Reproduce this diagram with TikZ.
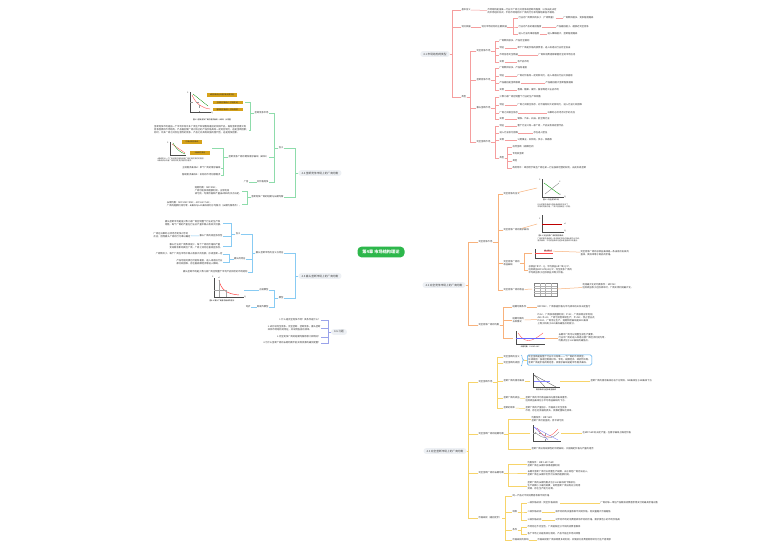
\documentclass[tikz,border=0pt]{standalone}
\usepackage{fontspec}
\setmainfont{Noto Sans CJK SC}
\usetikzlibrary{backgrounds}
\definecolor{redl}{HTML}{F59E9E}
\definecolor{orangel}{HTML}{F8B27C}
\definecolor{yellowl}{HTML}{F7D46A}
\definecolor{greenl}{HTML}{8EDCAB}
\definecolor{bluel}{HTML}{88CBF3}
\definecolor{purplel}{HTML}{9AA3EA}
\definecolor{pillgray}{HTML}{EDF0F4}
\definecolor{rootgreen}{HTML}{2DB74B}
\definecolor{gold}{HTML}{D6A21A}
\definecolor{boxblue}{HTML}{4AA8EE}
\newcommand\mmsmall{\fontsize{2.3}{2.9}\selectfont}
\newcommand\mmtiny{\fontsize{1.8}{2.2}\selectfont}
\newcommand\mmpill{\fontsize{2.7}{3.3}\selectfont}
\newcommand\mmroot{\fontsize{4.2}{5}\selectfont\bfseries}
\begin{document}
\begin{tikzpicture}[x=1pt,y=-1pt,
  txt/.style={inner sep=0.3pt,font=\mmsmall,align=left,text=black!80},
  pill/.style={fill=pillgray,rounded corners=2.5pt,inner xsep=3pt,inner ysep=1.6pt,font=\mmpill,text=black!75},
  goldbox/.style={fill=gold,inner sep=0.6pt,font=\mmtiny,text=black!85,minimum height=3.6pt},
  rl/.style={draw=redl,line width=0.5pt},
  ol/.style={draw=orangel,line width=0.5pt},
  yl/.style={draw=yellowl,line width=0.5pt},
  gl/.style={draw=greenl,line width=0.5pt},
  bl/.style={draw=bluel,line width=0.5pt},
  pl/.style={draw=purplel,line width=0.5pt},
  axis/.style={draw=black!70,line width=0.3pt},
  lab/.style={font=\mmtiny,inner sep=0.2pt}]
\useasboundingbox[fill=white] (0,0) rectangle (771,552);

\node[fill=rootgreen,text=white,rounded corners=4pt,minimum width=47pt,minimum height=10pt,font=\mmroot] (root) at (381,252) {第4章 市场结构理论};
\node[pill] (p41) at (435,54) {4.1 市场结构的类型};
\node[pill] (p42) at (444,285) {4.2 完全竞争市场上的厂商均衡};
\node[pill] (p43) at (445,451) {4.3 完全垄断市场上的厂商均衡};
\node[pill] (p44) at (320,173) {4.4 垄断竞争市场上的厂商均衡};
\node[pill] (p45) at (320,276) {4.5 寡头垄断市场上的厂商均衡};
\node[pill] (p46) at (339,332) {4.6 习题};

\begin{scope}[on background layer]
\draw[redl,line width=0.9pt] (root.center) .. controls (388,120) and (392,54) .. (p41.west);
\draw[orangel,line width=0.9pt] (root.center) .. controls (392,285) and (400,285) .. (p42.west);
\draw[yellowl,line width=0.9pt] (root.center) .. controls (388,430) and (395,451) .. (p43.west);
\draw[greenl,line width=0.9pt] (root.center) .. controls (382,185) and (365,173) .. (p44.east);
\draw[bluel,line width=0.9pt] (root.center) .. controls (378,270) and (365,276) .. (p45.east);
\draw[purplel,line width=0.9pt] (root.center) .. controls (384,315) and (365,332) .. (p46.east);
\end{scope}

\node[txt,anchor=west] (r1) at (461,10) {基本含义};
\node[txt,anchor=west] (r1t) at (487,11) {市场结构是指某一行业中厂商之间竞争或垄断的程度，以及由此决定\\的市场组织形式，不同市场结构中厂商的行为和均衡结果各不相同。};
\node[txt,anchor=west] (r2) at (461,27) {划分依据};
\node[txt,anchor=west] (r2a) at (481,27) {划分市场结构的主要依据};
\node[txt,anchor=west] (r2b1) at (518,18) {行业内厂商数目的多少（厂商数量）};
\node[txt,anchor=west] (r2c1) at (563,18) {厂商数目越多，竞争程度越高};
\node[txt,anchor=west] (r2b2) at (518,27) {行业内产品的差别程度};
\node[txt,anchor=west] (r2c2) at (556,27) {产品差别越小，越接近完全竞争};
\node[txt,anchor=west] (r2b3) at (518,34) {进入行业的难易程度};
\node[txt,anchor=west] (r2c3) at (547,34) {进入障碍越大，垄断程度越高};
\node[txt,anchor=west] (r3) at (461,97) {类型};
\foreach \c in {r1,r2,r3} \draw[rl] (p41.east) -- ++(2,0) |- (\c.west);
\draw[rl] (r1) -- (r1t);
\draw[rl] (r2) -- (r2a);
\foreach \c in {r2b1,r2b2,r2b3} \draw[rl] (r2a.east) -- ++(6,0) |- (\c.west);
\draw[rl] (r2b1) -- (r2c1);
\draw[rl] (r2b2) -- (r2c2);
\draw[rl] (r2b3) -- (r2c3);

\node[txt,anchor=west] (m1) at (476,51) {完全竞争市场};
\node[txt,anchor=west] (m1a) at (499,41) {厂商数目很多，产品完全相同};
\node[txt,anchor=west] (m1b) at (499,48) {特征};
\node[txt,anchor=west] (m1bt) at (517,48) {单个厂商是价格的接受者，进入或退出行业完全自由};
\node[txt,anchor=west] (m1c) at (499,55) {市场信息完全畅通};
\node[txt,anchor=west] (m1ct) at (538,55) {厂商和消费者都掌握完全的市场信息};
\node[txt,anchor=west] (m1d) at (499,62) {实例};
\node[txt,anchor=west] (m1dt) at (517,62) {农产品市场};
\node[txt,anchor=west] (m2) at (476,80) {垄断竞争市场};
\node[txt,anchor=west] (m2a) at (499,68) {厂商数目较多，产品有差别};
\node[txt,anchor=west] (m2b) at (499,76) {特征};
\node[txt,anchor=west] (m2bt) at (517,76) {厂商对价格有一定的影响力，进入或退出行业比较容易};
\node[txt,anchor=west] (m2c) at (499,83) {产品差别是垄断根源};
\node[txt,anchor=west] (m2ct) at (545,83) {产品差别越大垄断程度越高};
\node[txt,anchor=west] (m2d) at (499,90) {实例};
\node[txt,anchor=west] (m2dt) at (517,90) {香烟、糖果、餐饮、服装等轻工业品市场};
\node[txt,anchor=west] (m3) at (476,108) {寡头垄断市场};
\node[txt,anchor=west] (m3a) at (499,97) {少数几家厂商控制整个行业的生产和销售};
\node[txt,anchor=west] (m3b) at (499,105) {特征};
\node[txt,anchor=west] (m3bt) at (517,105) {厂商之间相互依存，对价格有较大的影响力，进入行业比较困难};
\node[txt,anchor=west] (m3c) at (499,113) {厂商之间相互依存};
\node[txt,anchor=west] (m3ct) at (547,113) {决策时必须考虑对手的反应};
\node[txt,anchor=west] (m3d) at (499,119) {实例};
\node[txt,anchor=west] (m3dt) at (517,119) {钢铁、汽车、石油、航空等行业};
\node[txt,anchor=west] (m4) at (476,142) {完全垄断市场};
\node[txt,anchor=west] (m4a) at (499,126) {特征};
\node[txt,anchor=west] (m4at) at (517,126) {整个行业只有一家厂商，产品没有相近替代品};
\node[txt,anchor=west] (m4b) at (499,133) {进入行业极为困难};
\node[txt,anchor=west] (m4bt) at (533,133) {存在进入壁垒};
\node[txt,anchor=west] (m4c) at (499,140) {实例};
\node[txt,anchor=west] (m4ct) at (517,140) {公用事业，如供电、供水、铁路等};
\node[txt,anchor=west] (m4d) at (499,158) {类型};
\node[txt,anchor=west] (m4d1) at (512,147) {自然垄断（规模经济）};
\node[txt,anchor=west] (m4d2) at (512,154) {专利权垄断};
\node[txt,anchor=west] (m4d3) at (512,161) {其他};
\node[txt,anchor=west] (m4d4) at (512,168) {政府特许：政府给予某些厂商在某一行业独家经营的权利，由此形成垄断};
\foreach \c in {m1,m2,m3,m4} \draw[rl] (r3.east) -- ++(4,0) |- (\c.west);
\foreach \c in {m1a,m1b,m1c,m1d} \draw[rl] (m1.east) -- ++(4,0) |- (\c.west);
\foreach \c in {m2a,m2b,m2c,m2d} \draw[rl] (m2.east) -- ++(4,0) |- (\c.west);
\foreach \c in {m3a,m3b,m3c,m3d} \draw[rl] (m3.east) -- ++(4,0) |- (\c.west);
\foreach \c in {m4a,m4b,m4c,m4d} \draw[rl] (m4.east) -- ++(4,0) |- (\c.west);
\foreach \c in {m4d1,m4d2,m4d3,m4d4} \draw[rl] (m4d.east) -- ++(3,0) |- (\c.west);
\foreach \a/\b in {m1b/m1bt,m1c/m1ct,m1d/m1dt,m2b/m2bt,m2c/m2ct,m2d/m2dt,m3b/m3bt,m3c/m3ct,m3d/m3dt,m4a/m4at,m4b/m4bt,m4c/m4ct} \draw[rl] (\a) -- (\b);

\node[txt,anchor=west] (o1) at (478,242) {完全竞争市场};
\node[txt,anchor=west] (oa) at (503,194) {完全竞争的含义};
\node[txt,anchor=west] (ob) at (503,230) {完全竞争厂商的需求曲线};
\node[txt,anchor=west] (oc) at (503,263) {完全竞争厂商的\\收益曲线};
\node[txt,anchor=west] (od) at (503,290) {完全竞争厂商的收益};
\node[txt,anchor=west] (o2) at (478,325) {完全竞争厂商的均衡};
\node[txt,anchor=west] (oe) at (512,307) {短期均衡条件};
\node[txt,anchor=west] (oet) at (537,307) {MR=SMC，厂商根据价格与平均成本的关系决定盈亏};
\node[txt,anchor=west] (of) at (512,320) {短期均衡的\\五种情况};
\node[txt,anchor=west] (oft) at (537,319) {P>AC，厂商获得超额利润；P=AC，厂商获得正常利润；\\AVC<P<AC，厂商亏损但继续生产；P=AVC，停止营业点；\\P<AVC，厂商停止生产。短期供给曲线是SMC曲线\\上等于和高于AVC曲线最低点的部分。};
\foreach \c in {o1,o2} \draw[ol] (p42.east) -- ++(3,0) |- (\c.west);
\foreach \c in {oa,ob,oc,od} \draw[ol] (o1.east) -- ++(5,0) |- (\c.west);
\draw[ol] (o2.east) -- ++(4,0) |- (oe.west);
\draw[ol] (o2.east) -- ++(4,0) |- (of.west);
\draw[ol] (oe) -- (oet);
\draw[ol] (of) -- (oft);

\coordinate (fa) at (537,188);
\draw[ol] (oa) -- (fa);
\draw[axis] (542,179) -- (542,197) -- (564,197);
\draw[green!60!black,line width=0.35pt] (544,183) -- (559,194);
\draw[gray,line width=0.35pt] (545,194) -- (559,183);
\node[lab] at (540,180) {P};
\node[lab] at (565,197) {Q};
\node[lab] at (560,182) {S};
\node[lab] at (560,195) {D};
\node[lab] at (551,200) {图4-1 完全竞争市场};
\node[txt,anchor=west,font=\mmtiny] at (537,206) {行业的需求曲线与供给曲线相交决定了\\市场的均衡价格，厂商只能接受这一价格。};

\coordinate (fb) at (537,224);
\draw[ol] (ob) -- (fb);
\draw[axis] (542,215) -- (542,232) -- (564,232);
\draw[red!75!black,line width=0.5pt] (542,224) -- (562,224);
\node[lab] at (540,219) {P};
\node[lab] at (565,224) {d};
\node[lab] at (565,231) {Q};
\node[lab] at (551,235.5) {图4-2 完全竞争厂商的需求曲线};
\node[txt,anchor=west,font=\mmtiny] at (537,240) {厂商的需求曲线是一条由既定市场价格出发的水平线，\\需求曲线、平均收益曲线与边际收益曲线三线重合。};

\coordinate (fc) at (532,253);
\foreach \c in {fc} \draw[ol] (oc.east) -- ++(4,0) |- (\c);
\draw[axis] (535,249) -- (535,258) -- (553,258);
\draw[red!70,line width=0.4pt] (535,253) -- (553,253);
\node[fill=red!30,inner sep=0.5pt,font=\mmtiny] (fcl) at (548,251) {AR=MR=P};
\node[txt,anchor=west] (oct) at (528,270) {总收益TR=P·Q，平均收益AR=TR/Q=P，\\边际收益MR=ΔTR/ΔQ=P，完全竞争厂商的\\平均收益等于边际收益并等于价格。};
\draw[ol] (oc.east) -- ++(4,0) |- (oct.west);
\node[txt,anchor=west] (oct2) at (580,253) {完全竞争厂商的总收益曲线是一条由原点出发的\\直线，其斜率等于商品的价格。};
\draw[ol] (fcl) -- (oct2);

\coordinate (fd) at (532,289);
\draw[ol] (od) -- (fd);
\draw[black!50,line width=0.2pt] (534,283) rectangle (557,296);
\foreach \yy in {285.6,288.2,290.8,293.4} \draw[black!30,line width=0.15pt] (534,\yy) -- (557,\yy);
\foreach \xx in {539.75,545.5,551.25} \draw[black!30,line width=0.15pt] (\xx,283) -- (\xx,296);
\node[txt,anchor=west] (odt) at (582,286) {利润最大化的均衡条件：MR=MC\\边际收益等于边际成本时，厂商实现利润最大化。};
\draw[ol] (557,289) -- (odt);

\coordinate (fe) at (513,338);
\draw[ol] (o2.east) -- ++(4,0) |- (fe);
\draw[axis] (516,331) -- (516,344) -- (545,344);
\draw[red!70,line width=0.35pt] (518,333) .. controls (525,344) and (532,342) .. (543,333);
\draw[blue!60,line width=0.3pt] (516,338) -- (545,338);
\node[lab] at (530,346.5) {长期均衡：P=LMC=LAC};
\node[txt,anchor=west] (oget) at (558,338) {长期中厂商可以调整全部生产要素，\\行业中厂商的进入和退出使厂商经济利润为零，\\均衡点位于LAC曲线的最低点。};
\draw[ol] (545,338) -- (oget);

\node[txt,anchor=west] (y1) at (478,382) {完全垄断市场};
\node[txt,anchor=west] (ya) at (503,357) {完全垄断的含义};
\node[txt,anchor=west] (yb) at (503,363) {完全垄断的成因};
\node[txt,anchor=west] (yc) at (503,381) {垄断厂商的需求曲线};
\node[txt,anchor=west] (yd) at (503,398) {垄断厂商的收益};
\node[txt,anchor=west] (ye) at (503,408) {垄断的效率};
\node[txt,anchor=west] (y2) at (478,434) {完全垄断厂商的短期均衡};
\node[txt,anchor=west] (y3) at (478,473) {完全垄断厂商的长期均衡};
\node[txt,anchor=west] (y4) at (478,518) {价格歧视（差别定价）};
\foreach \c in {y1,y2,y3,y4} \draw[yl] (p43.east) -- ++(2,0) |- (\c.west);
\foreach \c in {ya,yb,yc,yd,ye} \draw[yl] (y1.east) -- ++(4,0) |- (\c.west);
\node[draw=boxblue,rounded corners=1.5pt,line width=0.5pt,fill=white,txt,inner sep=1.2pt,anchor=west] (ybox) at (527,360) {完全垄断是指整个行业中只有唯一一个厂商的市场类型，\\形成原因：独家控制原材料、专利、规模经济、政府特许等。\\垄断厂商是价格的制定者，其需求曲线就是市场需求曲线。};
\draw[boxblue,line width=0.4pt] (521,355) .. controls (523,355) and (521,360) .. (524,360) .. controls (521,360) and (523,366) .. (521,366);
\draw[yl] (524,360) -- (ybox.west);
\coordinate (fy) at (530,381);
\draw[yl] (yc) -- (fy);
\draw[axis] (533,373) -- (533,387) -- (560,387);
\draw[black!70,line width=0.3pt] (534,375) -- (556,387);
\draw[black!70,line width=0.3pt] (534,375) -- (545,387);
\draw[blue!50,line width=0.3pt] (534,381) -- (550,381);
\node[lab] at (546,389.5) {需求曲线与边际收益曲线};
\node[txt,anchor=west] (yct) at (590,381) {垄断厂商的需求曲线向右下方倾斜，MR曲线位于AR曲线下方};
\draw[yl] (560,381) -- (yct);
\node[txt,anchor=west] (ydt) at (525,399) {垄断厂商的平均收益曲线与需求曲线重合，\\边际收益曲线位于平均收益曲线的下方。};
\node[txt,anchor=west] (yet) at (525,409) {垄断厂商的产量低于、价格高于完全竞争\\市场，存在社会福利损失，资源配置缺乏效率。};
\draw[yl] (yd) -- (ydt);
\draw[yl] (ye) -- (yet);

\node[txt,anchor=west] (yf) at (531,419) {均衡条件：MR=SMC\\垄断厂商可能盈利、持平或亏损};
\coordinate (fg) at (530,433);
\node[txt,anchor=west] (yh) at (531,449) {垄断厂商没有规律性的供给曲线，只能确定价格与产量的组合};
\foreach \c in {yf,fg,yh} \draw[yl] (y2.east) -- ++(4,0) |- (\c);
\draw[axis] (533,425) -- (533,441) -- (561,441);
\draw[blue!55,line width=0.3pt] (534,427) -- (558,440);
\draw[blue!55,line width=0.3pt] (534,427) -- (548,440);
\draw[red!70,line width=0.3pt] (537,428) .. controls (545,440) and (550,438) .. (558,429);
\draw[black!60,line width=0.25pt] (535,432) .. controls (543,440) and (552,440) .. (559,432);
\draw[black!40,dashed,line width=0.2pt] (533,433) -- (545,433) -- (545,441);
\node[txt,anchor=west] (ygt) at (582,433) {在MR=SMC处决定产量，在需求曲线上确定价格};
\draw[yl] (561,433) -- (ygt);

\node[txt,anchor=west] (yi) at (527,464) {均衡条件：MR=LMC=SMC\\垄断厂商在长期中获得超额利润};
\node[txt,anchor=west] (yj) at (527,473) {长期中垄断厂商可以调整生产规模，由于其他厂商无法进入，\\垄断厂商在长期中仍然可以保持超额利润。};
\node[txt,anchor=west] (yk) at (527,486) {垄断厂商的长期均衡点位于LAC曲线的下降部分，\\生产规模小于最优规模，说明垄断厂商没有充分利用\\资源，存在生产能力过剩。};
\foreach \c in {yi,yj,yk} \draw[yl] (y3.east) -- ++(4,0) |- (\c.west);

\node[txt,anchor=west] (yl1) at (512,496) {同一产品对不同消费者收取不同价格};
\node[txt,anchor=west] (ym) at (512,512) {种类};
\node[txt,anchor=west] (yn) at (512,530) {条件};
\node[txt,anchor=west] (yo) at (512,540) {价格歧视的影响};
\foreach \c in {yl1,ym,yn,yo} \draw[yl] (y4.east) -- ++(3,0) |- (\c.west);
\node[txt,anchor=west] (ym1) at (527,503) {一级价格歧视（完全价格歧视）};
\node[txt,anchor=west] (ym2) at (527,512) {二级价格歧视};
\node[txt,anchor=west] (ym3) at (527,520) {三级价格歧视};
\foreach \c in {ym1,ym2,ym3} \draw[yl] (ym.east) -- ++(4,0) |- (\c.west);
\node[txt,anchor=west] (ym1t) at (600,503) {厂商对每一单位产品都按消费者愿意支付的最高价格出售};
\node[txt,anchor=west] (ym2t) at (555,512) {按不同的购买量收取不同的价格，购买量越大价格越低};
\node[txt,anchor=west] (ym3t) at (555,520) {对不同市场的消费者收取不同的价格，需求弹性小的市场价格高};
\draw[yl] (ym1) -- (ym1t);
\draw[yl] (ym2) -- (ym2t);
\draw[yl] (ym3) -- (ym3t);
\node[txt,anchor=west] (yn1) at (527,527) {市场存在不完全性，厂商能够区分不同的消费者群体};
\node[txt,anchor=west] (yn2) at (527,534) {各个市场之间是有效分割的，产品不能在市场间转售};
\foreach \c in {yn1,yn2} \draw[yl] (yn.east) -- ++(4,0) |- (\c.west);
\node[txt,anchor=west] (yot) at (537,540) {价格歧视使厂商获得更多的利润，并使部分消费者剩余转化为生产者剩余};
\draw[yl] (yo) -- (yot);

\node[txt,anchor=east] (g1) at (284,148) {含义};
\node[txt,anchor=east] (g2) at (284,197) {垄断竞争厂商的短期与长期均衡};
\foreach \c in {g1,g2} \draw[gl] (p44.west) -- ++(-3,0) |- (\c.east);
\node[txt,anchor=east] (ga) at (269,113) {垄断竞争市场};
\node[txt,anchor=east] (gb) at (269,157) {垄断竞争厂商的两条需求曲线（d和D）};
\node[txt,anchor=east] (gc) at (269,182) {非价格竞争};
\foreach \c in {ga,gb,gc} \draw[gl] (g1.west) -- ++(-4,0) |- (\c.east);
\node[txt,anchor=east] (gct) at (249,182) {广告};
\draw[gl] (gc) -- (gct);

\coordinate (gfa) at (245,102);
\draw[axis] (190,92) -- (190,112) -- (211,112);
\draw[red!75,line width=0.35pt] (192,95) .. controls (196,104) and (202,108) .. (210,109);
\draw[green!55!black,line width=0.3pt] (193,94) -- (208,106);
\draw[black!40,dashed,line width=0.2pt] (190,102) -- (199,102) -- (199,112);
\node[lab] at (188,93) {P};
\node[lab] at (212,113) {Q};
\node[goldbox,minimum width=30pt] (gk1) at (222,95) {d需求曲线比D需求曲线更平坦};
\node[goldbox,minimum width=30pt] (gk2) at (228,102.5) {主观需求曲线d（价格变动）};
\node[goldbox,minimum width=30pt] (gk3) at (228,109.5) {客观需求曲线D（实际需求）};
\node[lab] at (212,120) {图4-3 垄断竞争厂商的需求曲线（d和D）示意图};
\node[txt,anchor=east] (gat) at (249,130) {垄断竞争市场是指一个市场中有许多厂商生产和销售有差别的同种产品，既有垄断因素又有\\竞争因素的市场结构，产品差别使厂商对自己的产品价格具有一定的控制力，这是垄断因素；\\同时，许多厂商之间存在激烈的竞争，产品之间具有较强的替代性，这是竞争因素。};
\foreach \c in {gfa} \draw[gl] (ga.west) -- ++(-4,0) |- (\c);
\draw[gl] (ga.west) -- ++(-4,0) |- (gat.east);

\coordinate (gfb) at (212,148);
\draw[axis] (170,142) -- (170,155) -- (186,155);
\draw[red!75,line width=0.3pt] (172,144) -- (185,153);
\draw[green!55!black,line width=0.3pt] (173,143) .. controls (177,150) and (180,152) .. (185,154);
\node[lab] at (168,143) {P};
\node[goldbox,minimum width=20pt] (gk4) at (192,142) {均衡点需求曲线};
\node[goldbox,minimum width=20pt] (gk5) at (200,153) {D曲线的变动};
\node[txt,anchor=west,font=\mmtiny] at (157,159.5) {d曲线表示一个厂商改变价格而其他厂商价格不变时的需求，\\D曲线表示所有厂商同时改变价格时的需求。};
\node[txt,anchor=east] (gb2) at (221,168) {主观需求曲线d：单个厂商的需求曲线};
\node[txt,anchor=east] (gb3) at (221,175) {客观需求曲线D：实际的市场份额需求};
\foreach \c in {gfb} \draw[gl] (gb.west) -- ++(-5,0) |- (\c);
\foreach \c in {gb2,gb3} \draw[gl] (gb.west) -- ++(-5,0) |- (\c.east);

\node[txt,anchor=east] (ge) at (242,191) {短期均衡：MR=SMC，\\厂商可能获得超额利润、正常利润\\或亏损，均衡价格和产量由d和D的交点决定。};
\node[txt,anchor=east] (gf) at (242,204) {长期均衡：MR=LMC=SMC，AR=LAC=SAC，\\厂商的超额利润为零，d曲线与LAC曲线相切于均衡点（长期均衡条件）。};
\foreach \c in {ge,gf} \draw[gl] (g2.west) -- ++(-4,0) |- (\c.east);

\node[txt,anchor=east] (b1) at (284,253) {寡头垄断市场的含义与特征};
\node[txt,anchor=east] (b2) at (284,298) {模型};
\foreach \c in {b1,b2} \draw[bl] (p45.west) -- ++(-3,0) |- (\c.east);
\node[txt,anchor=east] (ba) at (241,234) {含义};
\node[txt,anchor=east] (bb) at (246,259) {寡头的特征};
\node[txt,anchor=east] (bc) at (248,272) {寡头垄断市场是少数几家厂商控制整个市场产品供给的市场结构};
\foreach \c in {ba,bb,bc} \draw[bl] (b1.west) -- ++(-3,0) |- (\c.east);
\node[txt,anchor=east] (ba1) at (223,223) {寡头垄断市场是指少数几家厂商控制整个行业的生产和\\销售，每个厂商的产量在行业总产量中都占有较大份额。};
\node[txt,anchor=east] (ba2) at (223,236) {寡头厂商的相互依存性};
\node[txt,anchor=east] (ba3) at (223,246) {寡头行业的厂商数目很少，每个厂商的价格和产量\\变动都会影响其他厂商，厂商之间存在着相互依存。};
\foreach \c in {ba1,ba2,ba3} \draw[bl] (ba.west) -- ++(-4,0) |- (\c.east);
\node[txt,anchor=east] (ba2t) at (191,235.5) {厂商在决策时必须考虑竞争对手的\\反应，因而寡头厂商的行为难以确定};
\draw[bl] (ba2) -- (ba2t);
\node[txt,anchor=east] (bb1) at (223,254) {厂商数目少，每个厂商在市场中都占有很大的份额，形成垄断一定};
\node[txt,anchor=east] (bb2) at (223,262) {产品可能同质也可能有差别，进入或退出行业\\都比较困难，存在着规模经济等进入障碍。};
\foreach \c in {bb1,bb2} \draw[bl] (bb.west) -- ++(-4,0) |- (\c.east);

\node[txt,anchor=east] (bd1) at (269,290) {古诺模型};
\node[txt,anchor=east] (bd2) at (269,307) {斯威齐模型};
\foreach \c in {bd1,bd2} \draw[bl] (b2.west) -- ++(-4,0) |- (\c.east);
\coordinate (bfh) at (244,290);
\draw[bl] (bd1) -- (bfh);
\draw[axis] (214,278) -- (214,297) -- (244,297);
\draw[red!80,line width=0.45pt] (219,280) .. controls (221,290) and (227,294) .. (239,295);
\draw[black!35,line width=0.2pt] (219,280) -- (219,297);
\draw[black!35,line width=0.2pt] (214,290) -- (226,290) -- (226,297);
\node[lab] at (213,277) {P};
\node[lab] at (219,278) {d};
\node[lab] at (245,297) {Q};
\node[lab] at (222,300.5) {图4-4 寡头厂商需求曲线的弯折};
\node[txt,anchor=east] (bd2t) at (251,307) {弯折};
\draw[bl] (bd2) -- (bd2t);

\node[txt,anchor=east] (q1) at (321,320) {1.什么是完全竞争市场？其条件是什么？};
\node[txt,anchor=east] (q2) at (321,328) {2.试比较完全竞争、完全垄断、垄断竞争、寡头垄断\\四种市场结构的特征，并说明各自的效率。};
\node[txt,anchor=east] (q3) at (321,337) {3.完全竞争厂商的短期均衡有哪几种情况？};
\node[txt,anchor=east] (q4) at (321,343) {4.为什么垄断厂商的长期均衡不能实现资源的最优配置？};
\foreach \c in {q1,q2,q3,q4} \draw[pl] (p46.west) -- ++(-3,0) |- (\c.east);
\end{tikzpicture}
\end{document}
